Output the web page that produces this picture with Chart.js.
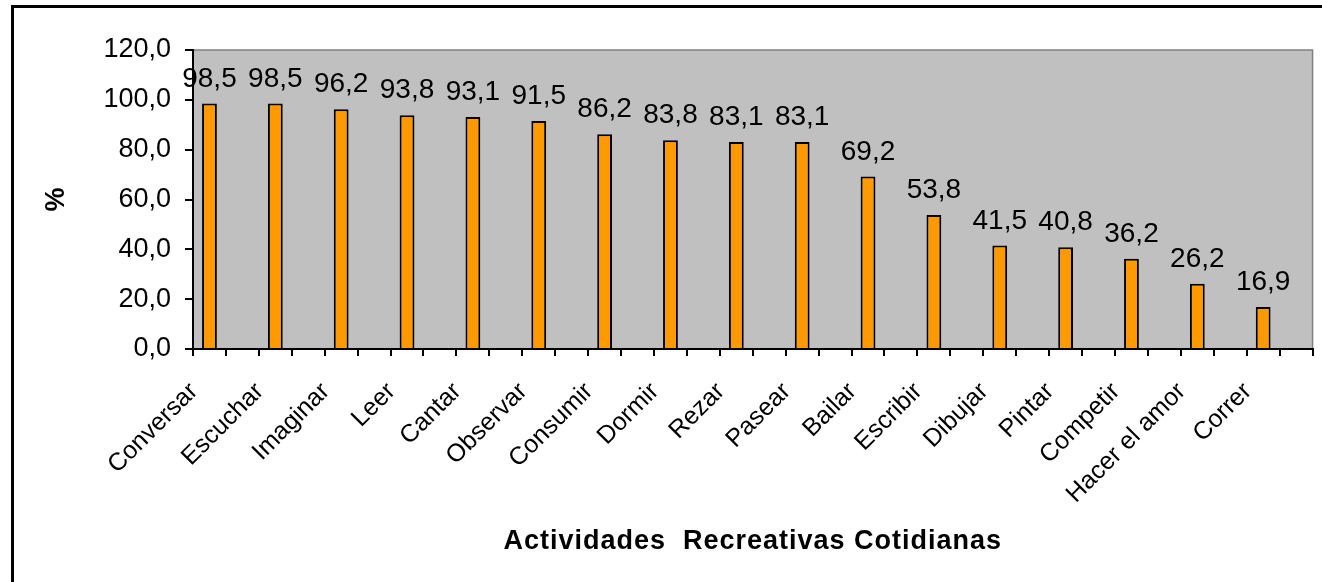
<!DOCTYPE html>
<html>
<head>
<meta charset="utf-8">
<script src="https://cdn.jsdelivr.net/npm/chart.js@4/dist/chart.umd.min.js"></script>
<style>
  html, body { margin: 0; padding: 0; background: #fff; overflow: hidden; }
  #frame {
    position: absolute; left: 11px; top: 5px;
    width: 1400px; height: 700px;
    border: 3px solid #000;
  }
  #wrap { position: absolute; left: 0; top: 0; width: 1322px; height: 582px; }
</style>
</head>
<body>
<div id="frame"></div>
<div id="wrap"><canvas id="chart" width="1322" height="582"></canvas></div>
<script>
const categories = [
  "Conversar", "Escuchar", "Imaginar", "Leer", "Cantar", "Observar",
  "Consumir", "Dormir", "Rezar", "Pasear", "Bailar", "Escribir",
  "Dibujar", "Pintar", "Competir", "Hacer el amor", "Correr"
];
const percentages = [
  98.5, 98.5, 96.2, 93.8, 93.1, 91.5, 86.2, 83.8, 83.1, 83.1,
  69.2, 53.8, 41.5, 40.8, 36.2, 26.2, 16.9
];
const emptySeries = categories.map(() => null);
const yTicks = { min: 0, max: 120, step: 20 };
const xTitle = "Actividades  Recreativas Cotidianas";

const FONT = "'Liberation Sans', Arial, sans-serif";

function fmt(v) {
  return Number(v).toFixed(1).replace(".", ",");
}

// grey plot area with a thin dark outline
const plotBackground = {
  id: "plotBackground",
  beforeDraw(chart) {
    const { ctx, chartArea: a } = chart;
    ctx.save();
    ctx.fillStyle = "#C0C0C0";
    ctx.fillRect(a.left, a.top, a.right - a.left, a.bottom - a.top);
    ctx.strokeStyle = "#808080";
    ctx.lineWidth = 1.5;
    ctx.strokeRect(a.left, a.top, a.right - a.left, a.bottom - a.top);
    ctx.restore();
  }
};

// extra tick marks at category centres, value labels, x title (letter spaced)
const extras = {
  id: "extras",
  afterDraw(chart) {
    const { ctx, chartArea: a } = chart;
    const x = chart.scales.x;
    ctx.save();
    ctx.strokeStyle = "#000";
    ctx.lineWidth = 2;
    categories.forEach((c, i) => {
      const px = Math.round(x.getPixelForValue(i));
      ctx.beginPath();
      ctx.moveTo(px, a.bottom);
      ctx.lineTo(px, a.bottom + 7);
      ctx.stroke();
    });

    const meta = chart.getDatasetMeta(0);
    ctx.fillStyle = "#000";
    ctx.font = "28px " + FONT;
    ctx.textAlign = "center";
    ctx.textBaseline = "alphabetic";
    meta.data.forEach((bar, i) => {
      ctx.fillText(fmt(percentages[i]), bar.x, bar.y - 17);
    });

    ctx.font = "bold 27px " + FONT;
    ctx.letterSpacing = "1px";
    ctx.textBaseline = "middle";
    ctx.fillText(xTitle, (a.left + a.right) / 2, 542);
    ctx.restore();
  }
};

new Chart(document.getElementById("chart").getContext("2d"), {
  type: "bar",
  data: {
    labels: categories,
    datasets: [
      {
        label: "%",
        data: percentages,
        backgroundColor: "#FF9900",
        borderColor: "#000",
        borderWidth: 2,
        categoryPercentage: 1.0,
        barPercentage: 0.45
      },
      {
        label: "",
        data: emptySeries,
        categoryPercentage: 1.0,
        barPercentage: 0.45
      }
    ]
  },
  options: {
    responsive: false,
    animation: false,
    layout: { padding: { top: 50, right: 5, left: 36, bottom: 22 } },
    plugins: {
      legend: { display: false },
      tooltip: { enabled: false }
    },
    scales: {
      x: {
        afterFit: (s) => { s.height = 211; },
        grid: {
          offset: true,
          drawOnChartArea: false,
          color: "#000",
          lineWidth: 2,
          tickLength: 7
        },
        border: { color: "#000", width: 2 },
        ticks: {
          color: "#000",
          font: { size: 25, family: FONT },
          minRotation: 45,
          maxRotation: 45,
          autoSkip: false,
          labelOffset: -32,
          padding: 21
        }
      },
      y: {
        min: yTicks.min,
        max: yTicks.max,
        afterFit: (s) => { s.width = 157; },
        grid: {
          drawOnChartArea: false,
          color: "#000",
          lineWidth: 2,
          tickLength: 8
        },
        border: { color: "#000", width: 2 },
        ticks: {
          stepSize: yTicks.step,
          color: "#000",
          padding: 14,
          font: { size: 27, family: FONT },
          callback: (v) => fmt(v)
        },
        title: {
          display: true,
          text: "%",
          color: "#000",
          font: { size: 27, weight: "bold", family: FONT }
        }
      }
    }
  },
  plugins: [plotBackground, extras]
});
</script>
</body>
</html>
